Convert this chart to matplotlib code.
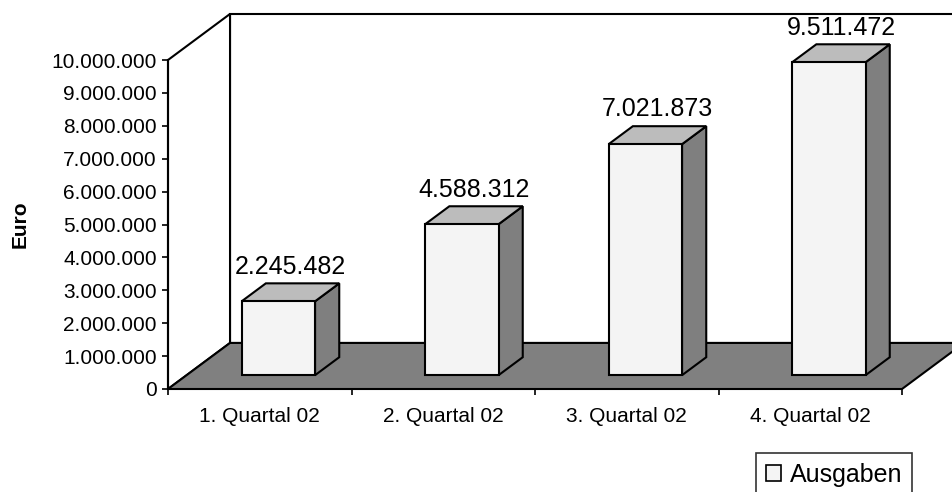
import matplotlib
matplotlib.use("Agg")
import matplotlib.pyplot as plt
from matplotlib.patches import Polygon
from matplotlib.ticker import FuncFormatter, MultipleLocator, FixedLocator

plt.rcParams['font.family'] = ['Liberation Sans', 'DejaVu Sans']

# data
quarters = ['1. Quartal 02', '2. Quartal 02', '3. Quartal 02', '4. Quartal 02']
ausgaben = [2245482, 4588312, 7021873, 9511472]
value_labels = ['2.245.482', '4.588.312', '7.021.873', '9.511.472']
y_max = 10000000

# pseudo-3d look (in data units)
DX = 0.338          # depth shift along x (categories)
DY = 1.40e6         # depth shift along y (euro)
BAR_W = 0.40
D0, D1 = 0.30, 0.69  # bar depth range as fraction of full depth

FRONT = '#f4f4f4'
TOP = '#bcbcbc'
SIDE = '#7f7f7f'
FLOOR = '#808080'
LW = 1.5


def dep(x, y, f):
    return (x + f * DX, y + f * DY)


fig = plt.figure(figsize=(9.53, 4.92), dpi=100)
ax = fig.add_axes([168 / 953, 103 / 492, 734 / 953, 329 / 492])
ax.set_xlim(0, len(quarters))
ax.set_ylim(0, y_max)
n = len(quarters)

# walls
left_wall = Polygon([(0, 0), (0, y_max), dep(0, y_max, 1), dep(0, 0, 1)],
                    closed=True, fc='white', ec='black', lw=LW, clip_on=False, zorder=1)
back_wall = Polygon([dep(0, 0, 1), dep(0, y_max, 1), dep(n, y_max, 1), dep(n, 0, 1)],
                    closed=True, fc='white', ec='black', lw=LW, clip_on=False, zorder=1)
ax.add_patch(back_wall)
ax.add_patch(left_wall)

# floor
floor = Polygon([(0, 0), (n, 0), dep(n, 0, 1), dep(0, 0, 1)],
                closed=True, fc=FLOOR, ec='black', lw=LW, clip_on=False, zorder=2)
ax.add_patch(floor)

# bars
for i, v in enumerate(ausgaben):
    x0 = i + 0.5 - BAR_W / 2
    x1 = i + 0.5 + BAR_W / 2
    side = [dep(x1, 0, D0), dep(x1, v, D0), dep(x1, v, D1), dep(x1, 0, D1)]
    top = [dep(x0, v, D0), dep(x1, v, D0), dep(x1, v, D1), dep(x0, v, D1)]
    front = [dep(x0, 0, D0), dep(x1, 0, D0), dep(x1, v, D0), dep(x0, v, D0)]
    for pts, c in [(side, SIDE), (top, TOP), (front, FRONT)]:
        ax.add_patch(Polygon(pts, closed=True, fc=c, ec='black', lw=LW,
                             clip_on=False, zorder=3, joinstyle='miter'))
    lx, ly = dep(i + 0.5, v, (D0 + D1) / 2)
    tx, ty = dep(i + 0.5, v, D1)
    ax.annotate(value_labels[i], xy=(lx, ty), xytext=(0, 7), textcoords='offset points',
                ha='center', va='baseline', fontsize=18, annotation_clip=False, zorder=4)

# axes styling
for s in ['top', 'right', 'bottom']:
    ax.spines[s].set_visible(False)
ax.spines['left'].set_linewidth(LW)
ax.spines['left'].set_zorder(5)
ax.patch.set_visible(False)

ax.yaxis.set_major_locator(MultipleLocator(1000000))
ax.yaxis.set_major_formatter(FuncFormatter(lambda v, p: f"{int(v):,}".replace(',', '.')))
ax.tick_params(axis='y', which='major', direction='out', length=4.5, width=1.2,
               pad=3.5, labelsize=15)

ax.xaxis.set_major_locator(FixedLocator(range(n + 1)))
ax.xaxis.set_minor_locator(FixedLocator([i + 0.5 for i in range(n)]))
ax.set_xticklabels([''] * (n + 1))
ax.set_xticklabels(quarters, minor=True)
ax.tick_params(axis='x', which='major', direction='out', length=4.5, width=1.2)
ax.tick_params(axis='x', which='minor', length=0, pad=13, labelsize=15)

ax.set_ylabel('Euro', fontsize=15, fontweight='bold', labelpad=16)

# legend
h = Polygon([(0, 0), (1, 0), (1, 1), (0, 1)], fc=FRONT, ec='black', lw=1.2)
leg = fig.legend([h], ['Ausgaben'], loc='upper left',
                 bbox_to_anchor=(756 / 953, 1 - 453 / 492), borderaxespad=0,
                 fontsize=18, frameon=True, fancybox=False, shadow=False,
                 handlelength=0.6, handleheight=0.6, handletextpad=0.35,
                 borderpad=0.4)
leg.get_frame().set_edgecolor('black')
leg.get_frame().set_linewidth(1.2)

fig.savefig('out.png', dpi=100)
